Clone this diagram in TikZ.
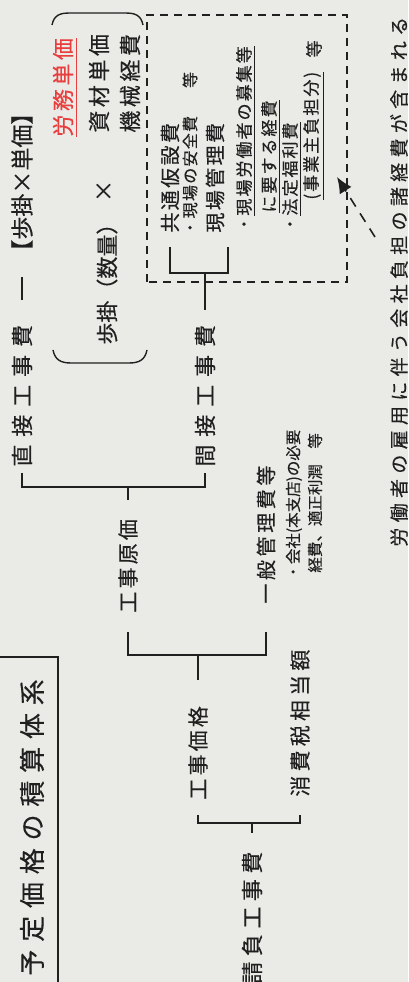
\documentclass[tikz,border=0pt]{standalone}
\usepackage{fontspec}
\setmainfont{Noto Sans CJK JP}[FakeBold=0.3]
\usepackage{tikz}
\usetikzlibrary{arrows.meta,calc}
\definecolor{ink}{RGB}{32,32,32}
\definecolor{paper}{RGB}{234,234,231}
\definecolor{laborred}{RGB}{232,62,62}
\newcommand{\jfont}[2]{\fontsize{#1}{#1}\selectfont\addfontfeatures{LetterSpace=#2}}
\tikzset{vtext/.style={
    rotate=90,
    anchor=west,
    inner sep=0pt,
    text=ink
  },
  bracket/.style={draw=ink, line width=0.8pt},
  parenline/.style={draw=ink, line width=0.7pt},
  dashbox/.style={draw=ink, line width=0.6pt, dash pattern=on 4pt off 3pt},
  notearrow/.style={draw=ink, line width=0.8pt, dash pattern=on 5pt off 4pt,
    -{Latex[length=8pt,width=7pt]}}
}

\begin{document}
\begin{tikzpicture}[x=0.5pt,y=0.5pt]
    \useasboundingbox (0,0) rectangle (408,982);
    \fill[paper] (0,0) rectangle (408,982);
    \clip (0,0) rectangle (408,982);
    % title
    \draw[bracket] (-5,325) -- (58,325) -- (58,-10);
    \node[vtext, font=\jfont{13}{30}] (title) at (32,6) {予定価格の積算体系};
    % top level
    \node[vtext, font=\jfont{11}{25}] (ukeoi) at (252,-2) {請負工事費};
    \node[vtext, font=\jfont{10.5}{15}] (kakaku) at (198,182) {工事価格};
    \node[vtext, font=\jfont{10.5}{20}] (shohi) at (300,185) {消費税相当額};
    \coordinate (b1) at (0,159);
    \draw[bracket] (kakaku.west |- b1) ++(0,8) -- (kakaku.west |- b1) -- (shohi.west |- b1) -- ++(0,8);
    \draw[bracket] (ukeoi.east |- b1) -- ++(0,-10);
    % kouji kakaku
    \node[vtext, font=\jfont{10.5}{15}] (genka) at (128,369) {工事原価};
    \node[vtext, font=\jfont{10}{18}] (ippan) at (266,378) {一般管理費等};
    \node[vtext, font=\jfont{7.75}{0}] (kaisha) at (294,402) {・会社(本支店)の必要};
    \node[vtext, font=\jfont{7.75}{0}] (keihi) at (315,409) {経費、適正利潤\hspace{1em}等};
    \coordinate (b2) at (0,327);
    \draw[bracket] (genka.west |- b2) ++(0,23) -- (genka.west |- b2) -- (ippan.west |- b2) -- ++(0,23);
    \draw[bracket] (kakaku.east |- b2) -- ++(0,-25);
    % kouji genka
    \node[vtext, font=\jfont{11}{36}] (chokusetsu) at (22,515) {直接工事費};
    \node[vtext, font=\jfont{11}{36}] (kansetsu) at (205,515) {間接工事費};
    \coordinate (b3) at (0,495);
    \draw[bracket] (chokusetsu.west |- b3) ++(0,14) -- (chokusetsu.west |- b3) -- (kansetsu.west |- b3) -- ++(0,14);
    \draw[bracket] (genka.east |- b3) -- ++(0,-13);
    % chokusetsu
    \node[vtext, font=\jfont{11.5}{0}] (bugake) at (22,719) {【歩掛×単価】};
    \draw[bracket] (chokusetsu.west |- 0,682) -- (chokusetsu.west |- 0,705);
    \node[vtext, font=\jfont{11}{0}] (suryo) at (107,637) {歩掛（数量）};
    \node[font=\jfont{11}{0}, rotate=90, text=ink, inner sep=0pt] (kakeru) at (104,791) {×};
    \node[vtext, font=\jfont{11}{16}, text=laborred] (roumu) at (65,845) {\underline{労務単価}};
    \node[vtext, font=\jfont{11}{16}] (shizai) at (99,849) {資材単価};
    \node[vtext, font=\jfont{11}{16}] (kikai) at (130,849) {機械経費};
    \draw[parenline] (53,632) .. controls (55,622) and (61,619) .. (71,619) -- (129,619) .. controls (139,619) and (145,622) .. (147,632);
    \draw[parenline] (52,957) .. controls (54,967) and (60,969) .. (70,969) -- (125,969) .. controls (135,969) and (141,967) .. (143,957);
    % kansetsu
    \node[vtext, font=\jfont{10}{12}] (kyotsu) at (170,749) {共通仮設費};
    \node[vtext, font=\jfont{8}{8}] (anzen) at (190,746) {・現場の安全費\hspace{14pt}等};
    \node[vtext, font=\jfont{10}{12}] (genba) at (215,749) {現場管理費};
    \node[vtext, font=\jfont{8.5}{12}] (roudou) at (246,749) {・\underline{現場労働者の募集等}};
    \node[vtext, font=\jfont{8.5}{12}] (yousuru) at (271,769) {\underline{に要する経費}};
    \node[vtext, font=\jfont{8.5}{12}] (houtei) at (292,749) {・\underline{法定福利費}};
    \node[vtext, font=\jfont{8.5}{12}] (jigyou) at (314,782) {\underline{(事業主負担分)}};
    \node[font=\jfont{8.5}{0}, rotate=90, text=ink, inner sep=0pt] (tou) at (314,933) {等};
    \coordinate (b4) at (0,709);
    \draw[bracket] (kyotsu.west |- b4) ++(0,26) -- (kyotsu.west |- b4) -- ([xshift=6.5pt]genba.west |- b4) -- ++(0,26);
    \draw[bracket] (kansetsu.east |- b4) -- ++(0,-37);
    \draw[dashbox] (147,700) rectangle (347,967);
    % note
    \node[vtext, font=\jfont{9.5}{28}] (note) at (399,435) {労働者の雇用に伴う会社負担の諸経費が含まれる};
    \coordinate (tail) at (375,745);
    \coordinate (tip) at (337,805);
    \draw[notearrow] (tail) -- (tip);
\end{tikzpicture}
\end{document}
